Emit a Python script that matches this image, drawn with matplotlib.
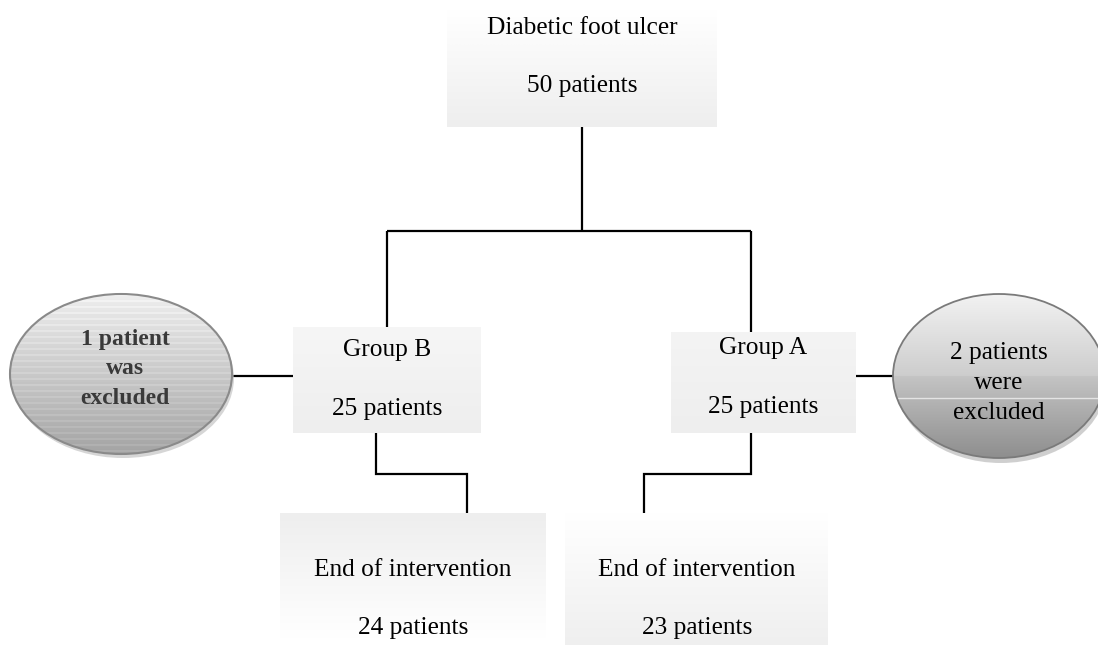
import numpy as np
import matplotlib
matplotlib.use("Agg")
import matplotlib.pyplot as plt
from matplotlib.patches import Ellipse
from matplotlib.colors import LinearSegmentedColormap

# ---- content ----
top_title = "Diabetic foot ulcer"
top_count = "50 patients"
group_names = ["Group B", "Group A"]
group_counts = ["25 patients", "25 patients"]
end_titles = ["End of intervention", "End of intervention"]
end_counts = ["24 patients", "23 patients"]
excluded_labels = ["1 patient\nwas\nexcluded", "2 patients\nwere\nexcluded"]

W, H = 1098, 645
fig = plt.figure(figsize=(W / 100, H / 100), dpi=100)
ax = fig.add_axes([0, 0, 1, 1])
ax.set_xlim(0, W)
ax.set_ylim(H, 0)
ax.axis("off")

SERIF = "Liberation Serif"
FS = 18.3
DY = 3  # small vertical nudge for text baseline


def grad_box(x0, x1, y0, y1, top, bottom, z=1):
    cm = LinearSegmentedColormap.from_list("g", [top, bottom])
    g = np.linspace(0, 1, 256).reshape(-1, 1)
    ax.imshow(g, cmap=cm, extent=[x0, x1, y1, y0], aspect="auto",
              interpolation="bilinear", zorder=z)


def line(xs, ys):
    ax.plot(xs, ys, color="black", lw=1.6, solid_capstyle="butt",
            solid_joinstyle="miter", zorder=0.5)


def label(x, y, s, **kw):
    ax.text(x, y + DY, s, ha="center", va="center", fontsize=FS, family=SERIF, **kw)


# ---- connectors ----
line([582, 582], [127, 231])
line([387, 751], [231, 231])
line([387, 387], [231, 328])
line([751, 751], [231, 332])
line([232, 293], [376, 376])
line([856, 893], [376, 376])
line([376, 376, 467, 467], [433, 474, 474, 513])
line([751, 751, 644, 644], [433, 474, 474, 513])

# ---- boxes ----
grad_box(447, 717, 10, 127, "#ffffff", "#eeeeee")
grad_box(293, 481, 327, 433, "#f6f6f6", "#eeeeee")
grad_box(671, 856, 332, 433, "#f4f4f4", "#eeeeee")
grad_box(280, 546, 513, 638, "#eeeeee", "#ffffff")
grad_box(565, 828, 513, 645, "#ffffff", "#efefef")

label(582, 25, top_title)
label(582, 83, top_count)

for cx, ty, name, cnt in zip([387, 763], [347, 345], group_names, group_counts):
    label(cx, ty, name)
    label(cx, ty + 59, cnt)

for cx, t, c in zip([413, 697], end_titles, end_counts):
    label(cx, 567, t)
    label(cx, 625, c)

# ---- ellipses ----
# left ellipse (striped grey)
ecx, ecy, ew, eh = 121, 374, 222, 160
sh = Ellipse((ecx + 2, ecy + 4), ew, eh, facecolor="#bbbbbb", edgecolor="none",
             alpha=0.6, zorder=1)
ax.add_patch(sh)
el = Ellipse((ecx, ecy), ew, eh, facecolor="none", edgecolor="#8a8a8a", lw=1.5, zorder=3)
ax.add_patch(el)
n = 160
base = np.linspace(0.93, 0.64, n)
stripe = np.where((np.arange(n) % 6) < 2, 0.035, 0.0)
arr = np.clip(base + stripe, 0, 1).reshape(-1, 1)
im = ax.imshow(arr, cmap="gray", vmin=0, vmax=1,
               extent=[ecx - ew / 2, ecx + ew / 2, ecy + eh / 2, ecy - eh / 2],
               aspect="auto", interpolation="nearest", zorder=2)
im.set_clip_path(el)
ax.text(ecx + 4, 369, excluded_labels[0], ha="center", va="center", fontsize=17,
        family=SERIF, weight="bold", color="#3a3a3a", linespacing=1.5, zorder=4)

# right ellipse (smooth grey)
rcx, rcy, rw, rh = 999, 376, 212, 164
sh2 = Ellipse((rcx + 2, rcy + 5), rw, rh, facecolor="#b0b0b0", edgecolor="none",
              alpha=0.6, zorder=1)
ax.add_patch(sh2)
er = Ellipse((rcx, rcy), rw, rh, facecolor="none", edgecolor="#7a7a7a", lw=1.3, zorder=3)
ax.add_patch(er)
cm2 = LinearSegmentedColormap.from_list("r", [(0, "#f2f2f2"), (0.5, "#cdcdcd"),
                                              (0.5001, "#c4c4c4"), (1, "#8e8e8e")])
g2 = np.linspace(0, 1, 256).reshape(-1, 1)
im2 = ax.imshow(g2, cmap=cm2, extent=[rcx - rw / 2, rcx + rw / 2, rcy + rh / 2, rcy - rh / 2],
                aspect="auto", interpolation="bilinear", zorder=2)
im2.set_clip_path(er)
ax.plot([rcx - rw / 2, rcx + rw / 2], [398, 398], color="#e4e4e4", lw=1, zorder=2.5,
        clip_path=er)
ax.text(rcx, 383, excluded_labels[1], ha="center", va="center", fontsize=FS,
        family=SERIF, color="black", linespacing=1.45, zorder=4)

fig.savefig("out.png", dpi=100)
